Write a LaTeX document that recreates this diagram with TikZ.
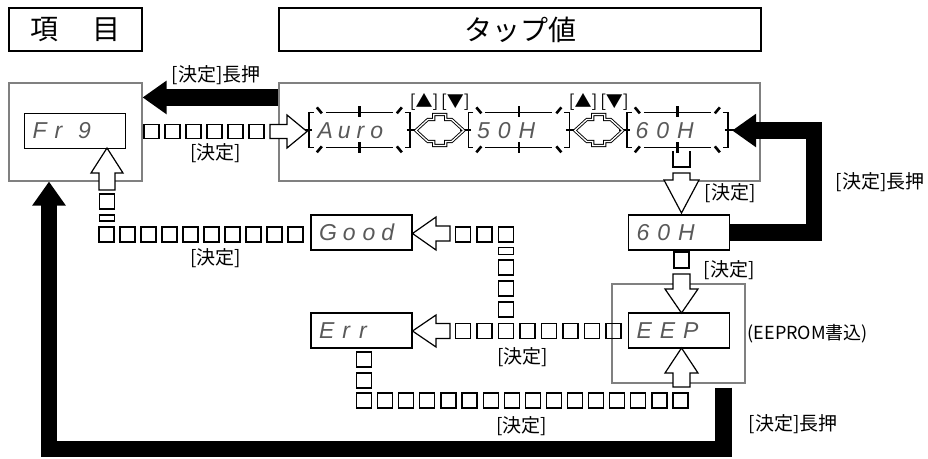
\documentclass[tikz,border=0pt]{standalone}
\usepackage{fontspec}
\setmainfont{Noto Sans CJK JP}
\newfontfamily\segfont{Liberation Sans}
\usetikzlibrary{arrows.meta,positioning}

\newcommand{\sk}[1]{\kern#1pt }
\newcommand{\blink}[1]{%
  \begin{scope}[shift={(#1.north west)}]
    \draw[blinkline] (5,0) -- (0,0) -- (0,35) -- (5,35);
    \draw[blinkline] (17,0) -- (84,0) (17,35) -- (84,35);
    \draw[blinkline] (96,0) -- (101,0) -- (101,35) -- (96,35);
    \draw[tick] (8,-5) -- (13,1) (88,1) -- (93,-5) (8,40) -- (13,34) (88,34) -- (93,40);
    \draw[tick] (50.5,-6) -- (50.5,5) (50.5,30) -- (50.5,41) (-8,17.5) -- (3,17.5) (98,17.5) -- (109,17.5);
  \end{scope}}

\tikzset{
  ttlbox/.style={draw, line width=1.3pt, minimum height=43pt, inner sep=0pt, font=\fontsize{28}{30}\selectfont},
  grpbox/.style={draw=black!50, line width=1.1pt, inner sep=0pt},
  disp/.style={draw, line width=1.3pt, minimum height=35pt, text width=85pt, inner xsep=8pt, inner ysep=0pt,
    align=left, text=black!65, font=\segfont\itshape\fontsize{23}{23}\selectfont},
  blinkdisp/.style={disp, draw=none},
  blinkline/.style={line width=1.3pt},
  tick/.style={line width=2.6pt},
  lbl/.style={inner sep=0pt, font=\fontsize{19}{20}\selectfont},
  keylbl/.style={inner sep=0pt, font=\fontsize{17}{18}\selectfont},
  sq/.style={draw, line width=1.2pt, minimum width=15pt, minimum height=15pt, inner sep=0pt},
  holarrow/.style={draw, fill=white, line width=1.2pt, line join=miter},
  blk/.style={line width=16.5pt, line join=miter, -{Triangle[length=24pt,width=32pt]}},
  dblarrow/.pic={
    \draw[line width=0.9pt, double=white, double distance=1.3pt, line join=miter]
      (-24,0) -- (-12,-11) -- (-6,-11) -- (-6,-16) -- (6,-16) -- (6,-11) -- (12,-11) -- (24,0)
      -- (12,11) -- (6,11) -- (6,15) -- (-6,15) -- (-6,11) -- (-12,11) -- cycle;}
}

\begin{document}
\begin{tikzpicture}[x=1pt,y=-1pt]
  \useasboundingbox (0,0) rectangle (928,458);
  \node[ttlbox, minimum width=133pt] (ttlitem) at (75.5,29.5) {項\hspace{1.2em}目};
  \node[ttlbox, minimum width=482pt] (ttltap) at (520,29.5) {タップ値};

  \node[grpbox, minimum width=133pt, minimum height=98pt] (itembox) at (75.5,132) {};
  \node[grpbox, minimum width=481pt, minimum height=98pt] (tapbox) at (519.5,132) {};
  \node[grpbox, minimum width=133pt, minimum height=99pt] (eepbox) at (678.5,333.5) {};

  \node[disp] (fr9) at (75,131) {F\sk{8}r\sk{16}9};
  \node[blinkdisp] (auro) at (360,130.5) {A\sk{5}u\sk{6}r\sk{6}o};
  \node[blinkdisp] (s50) at (519.5,130.5) {5\sk{8}0\sk{8}H};
  \node[blinkdisp] (s60) at (678,130.5) {6\sk{8}0\sk{8}H};
  \node[disp] (d60) at (679,232.5) {6\sk{8}0\sk{8}H};
  \node[disp] (eep) at (679,330.5) {E\sk{8}E\sk{8}P};
  \node[disp] (good) at (361.5,232.5) {G\sk{6}o\sk{7}o\sk{6}d};
  \node[disp] (err) at (361.5,330.5) {E\sk{8}r\sk{9}r};
  \blink{auro}
  \blink{s50}
  \blink{s60}

  \path (auro.east) -- (s50.west) coordinate[midway] (ud1);
  \path (s50.east) -- (s60.west) coordinate[midway] (ud2);
  \pic at (ud1) {dblarrow};
  \pic at (ud2) {dblarrow};
  \node[keylbl] (ud1lbl) at ([yshift=28.5pt]ud1) {[▲]\hspace{3pt}[▼]};
  \node[keylbl] (ud2lbl) at ([yshift=28.5pt]ud2) {[▲]\hspace{3pt}[▼]};

  \foreach \i in {0,...,5} \node[sq, minimum height=14pt] at (151.5+21*\i,131.5) {};
  \draw[holarrow] (270,124.5) -- (287,124.5) -- (287,115) -- (307,131.5) -- (287,148) -- (287,138.5) -- (270,138.5) -- cycle;

  \draw[holarrow] (99,190) -- (99,173) -- (91,173) -- (107,148) -- (123,173) -- (115,173) -- (115,190) -- cycle;
  \node[sq] at (107,201.5) {};
  \node[sq, minimum height=6pt] at (107,218) {};
  \foreach \i in {0,...,9} \node[sq] at (106.5+21*\i,234.5) {};

  \draw[holarrow] (450,226) -- (436,226) -- (436,217) -- (412.5,233.5) -- (436,250) -- (436,241) -- (450,241) -- cycle;
  \foreach \x in {463,484.5,506} \node[sq] at (\x,234.5) {};
  \node[sq, minimum height=7pt] at (506,251) {};
  \foreach \y in {267.5,288.5,309.5} \node[sq] at (506,\y) {};
  \foreach \i in {0,...,7} \node[sq] at (463+21.5*\i,331) {};
  \draw[holarrow] (450,323.5) -- (436,323.5) -- (436,315) -- (412.5,331) -- (436,347) -- (436,338.5) -- (450,338.5) -- cycle;

  \foreach \y in {359.5,380.5} \node[sq] at (364,\y) {};
  \foreach \i in {0,...,15} \node[sq] at (364+21.1*\i,400.5) {};
  \draw[holarrow] (673,387) -- (673,373) -- (665,373) -- (681.5,348) -- (698,373) -- (690,373) -- (690,387) -- cycle;

  \draw[line width=1.2pt] (673,151) -- (673,167) -- (690,167) -- (690,151);
  \draw[holarrow] (673,173) -- (690,173) -- (690,180) -- (699,180) -- (681.5,213) -- (664,180) -- (673,180) -- cycle;
  \node[sq, minimum height=16pt] at (681.5,260) {};
  \draw[holarrow] (673,274) -- (690,274) -- (690,289) -- (698,289) -- (681.5,313) -- (665,289) -- (673,289) -- cycle;

  \coordinate (rtcorner) at (814,130.5);
  \draw[blk] ([yshift=-15pt]tapbox.north west) -- ([yshift=-15pt]itembox.north east);
  \draw[blk] (d60.east) -| (rtcorner) -- ([xshift=3pt]s60.east);
  \draw[blk] ([xshift=45pt,yshift=-4pt]eepbox.south) -- ++(0,61.5) -| ([xshift=-26.5pt]itembox.south);

  \node[lbl] (lpress1) at (216,75) {[決定]長押};
  \node[lbl] (lok1) at (215.5,153) {[決定]};
  \node[lbl] (lok2) at (730,193) {[決定]};
  \node[lbl] (lpress2) at (880,182) {[決定]長押};
  \node[lbl] (lok3) at (729,270) {[決定]};
  \node[lbl, right=2pt of eepbox, font=\fontsize{18}{19}\selectfont] (leep) {(EEPROM書込)};
  \node[lbl] (lok4) at (215.5,258.5) {[決定]};
  \node[lbl] (lok5) at (522.5,357) {[決定]};
  \node[lbl] (lok6) at (521.5,426) {[決定]};
  \node[lbl] (lpress3) at (793,424) {[決定]長押};
\end{tikzpicture}
\end{document}
